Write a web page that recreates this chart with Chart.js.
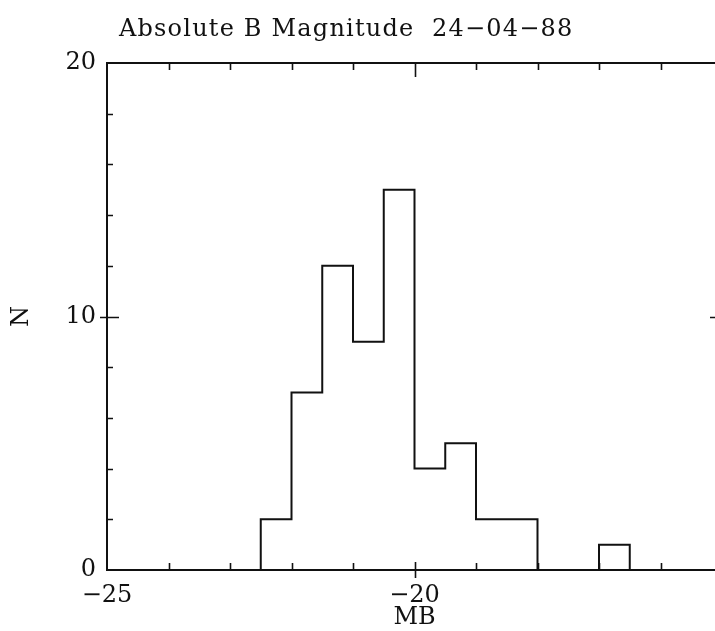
<!DOCTYPE html>
<html>
<head>
<meta charset="utf-8">
<script src="https://cdn.jsdelivr.net/npm/chart.js@4/dist/chart.umd.min.js"></script>
<style>
  html, body { margin: 0; padding: 0; background: #ffffff; overflow: hidden; }
  #wrap { width: 715px; height: 631px; overflow: hidden; }
  canvas { display: block; }
</style>
</head>
<body>
<div id="wrap"><canvas id="c" width="742" height="631"></canvas></div>
<script>
// ---- data ----
const chartTitle = "Absolute B Magnitude  24\u221204\u221288";
const xAxisTitle = "MB";
const yAxisTitle = "N";
const binEdges = [-22.5, -22, -21.5, -21, -20.5, -20, -19.5, -19, -18.5, -18, -17.5, -17, -16.5];
const counts   = [2, 7, 12, 9, 15, 4, 5, 2, 2, 0, 0, 1];
const xTickLabels = [-25, -20];
const xMajorTicks = [-25, -20, -15];
const yTickLabels = [0, 10, 20];
const xRange = [-25, -15];
const yRange = [0, 20];
const xMinorStep = 1;
const yMinorStep = 2;

// build stepped outline points from the arrays
const outline = [{x: binEdges[0], y: 0}];
counts.forEach((c, i) => outline.push({x: binEdges[i], y: c}));
outline.push({x: binEdges[binEdges.length - 1], y: 0});

const FONT = "'DejaVu Serif', 'Liberation Serif', serif";
const INK = '#111111';

const framePlugin = {
  id: 'frame',
  afterDraw(chart) {
    const {ctx, chartArea: a, scales: {x, y}} = chart;
    ctx.save();
    ctx.strokeStyle = INK;
    ctx.lineWidth = 2;
    ctx.lineCap = 'butt';
    ctx.strokeRect(a.left, a.top, a.right - a.left, a.bottom - a.top);
    ctx.lineWidth = 1.6;
    ctx.beginPath();
    for (let v = xRange[0] + xMinorStep; v < xRange[1]; v += xMinorStep) {
      const px = Math.round(x.getPixelForValue(v)) + 0.5;
      const major = xMajorTicks.includes(v);
      const inLen = major ? 8 : 7;
      const outLen = major ? 8 : 0;
      ctx.moveTo(px, a.bottom + outLen); ctx.lineTo(px, a.bottom - inLen);
      ctx.moveTo(px, a.top); ctx.lineTo(px, a.top + (major ? 14 : 7));
    }
    for (let v = yRange[0] + yMinorStep; v < yRange[1]; v += yMinorStep) {
      const py = Math.round(y.getPixelForValue(v)) + 0.5;
      const major = yTickLabels.includes(v);
      ctx.moveTo(a.left - (major ? 7 : 0), py); ctx.lineTo(a.left + (major ? 12 : 6), py);
      ctx.moveTo(a.right + (major ? 7 : 0), py); ctx.lineTo(a.right - (major ? 12 : 6), py);
    }
    ctx.stroke();
    // title
    ctx.fillStyle = INK;
    ctx.font = "24px " + FONT;
    ctx.textBaseline = 'alphabetic';
    ctx.textAlign = 'left';
    try { ctx.letterSpacing = '1.2px'; } catch (e) {}
    ctx.fillText(chartTitle, a.left + 12, 36);
    ctx.restore();
  }
};

new Chart(document.getElementById('c'), {
  type: 'line',
  data: {
    datasets: [{
      data: outline,
      stepped: true,
      borderColor: INK,
      borderWidth: 2,
      pointRadius: 0,
      fill: false,
      tension: 0
    }]
  },
  options: {
    responsive: false,
    animation: false,
    devicePixelRatio: 1,
    layout: { padding: { top: 63, right: 20, left: 0, bottom: 0 } },
    plugins: { legend: { display: false }, tooltip: { enabled: false }, title: { display: false } },
    scales: {
      x: {
        type: 'linear',
        min: xRange[0], max: xRange[1],
        grid: { display: false, drawTicks: false },
        border: { display: false },
        afterBuildTicks: s => { s.ticks = xTickLabels.map(v => ({value: v})); },
        ticks: { color: INK, font: { family: FONT, size: 24, lineHeight: 1 }, padding: 14, maxRotation: 0, autoSkip: false,
                 callback: v => String(v).replace('-', '\u2212') },
        title: { display: true, text: xAxisTitle, color: INK, font: { family: FONT, size: 24, lineHeight: 1 }, padding: { top: 0, bottom: 1 } },
        afterFit: s => { s.height = 61; }
      },
      y: {
        type: 'linear',
        min: yRange[0], max: yRange[1],
        grid: { display: false, drawTicks: false },
        border: { display: false },
        afterBuildTicks: s => { s.ticks = yTickLabels.map(v => ({value: v})); },
        ticks: { color: INK, font: { family: FONT, size: 24, lineHeight: 1 }, padding: 11, autoSkip: false },
        title: { display: true, text: yAxisTitle, color: INK, font: { family: FONT, size: 24, lineHeight: 1 }, padding: { top: 10, bottom: 0 } },
        afterFit: s => { s.width = 107; }
      }
    }
  },
  plugins: [framePlugin]
});
</script>
</body>
</html>
